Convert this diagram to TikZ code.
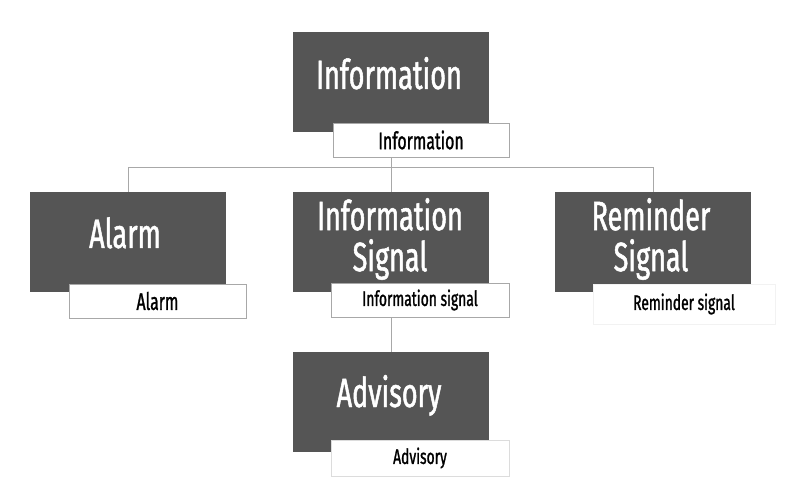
\documentclass[tikz,border=0pt]{standalone}
\usepackage{fontspec}
\setmainfont[FakeStretch=0.66,FakeBold=1.2]{Fira Sans}
\usetikzlibrary{positioning}
\definecolor{boxgray}{HTML}{555555}
\definecolor{wiregray}{HTML}{A8A8A8}
\tikzset{
  darkbox/.style={fill=boxgray, minimum width=196pt, minimum height=100pt, inner sep=0pt},
  bigtext/.style={text=white, font=\fontsize{41}{41}\selectfont, align=center, inner sep=0pt},
  tagbox/.style={fill=white, draw=wiregray, line width=0.8pt, minimum height=34pt, inner sep=0pt, font=\fontsize{21}{22}\selectfont},
  tagbig/.style={tagbox, font=\fontsize{24}{25}\selectfont},
  wire/.style={draw=wiregray, line width=1pt}
}

\begin{document}
\begin{tikzpicture}[x=1pt,y=-1pt]
\useasboundingbox[fill=white] (0,0) rectangle (800,486);
% Boxes
\foreach \n/\x/\y in {info/391/82, alarm/128/242, signal/391/242, remind/653/242, advis/391/402} {
  \node[darkbox] (\n) at (\x,\y) {};
}
% Titles
\node[bigtext, anchor=base] (info-t) at (389,89) {Information};
\node[bigtext, anchor=base] (alarm-t) at (125,248) {Alarm};
\node[bigtext] (signal-t) at (390,239) {Information\\Signal};
\node[bigtext] (remind-t) at (651,239) {Reminder\\Signal};
\node[bigtext, anchor=base] (advis-t) at (389,407) {Advisory};
% Tags
\node[tagbig, minimum width=176pt] (info-l) at (421,140) {Information};
\node[tagbig, minimum width=177pt] (alarm-l) at (157.5,301) {Alarm};
\node[tagbox, minimum width=178pt] (signal-l) at (420,300) {Information signal};
\node[tagbox, draw=wiregray!15, minimum width=182pt, minimum height=40pt] (remind-l) at (684,304) {Reminder signal};
\node[tagbox, draw=wiregray!40, minimum width=178pt, minimum height=36pt] (advis-l) at (420,458) {Advisory};
% Connectors
\coordinate (bus) at (391,168);
\draw[wire] (info |- info-l.south) -- (signal.north);
\draw[wire] (alarm.north) -- (alarm |- bus) -- (remind |- bus) -- (remind.north);
\draw[wire] (signal |- signal-l.south) -- (advis.north);
\end{tikzpicture}
\end{document}
